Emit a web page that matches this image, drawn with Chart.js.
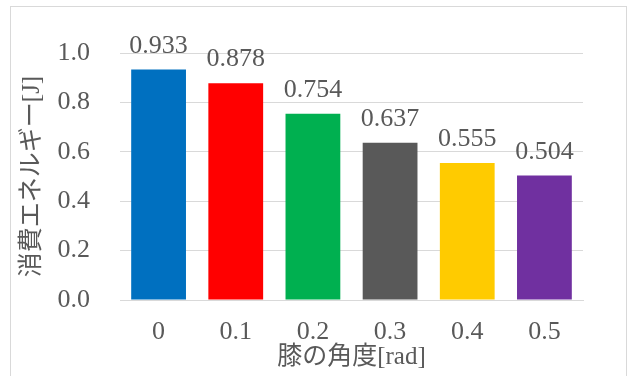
<!DOCTYPE html>
<html>
<head>
<meta charset="utf-8">
<script src="https://cdn.jsdelivr.net/npm/chart.js@4"></script>
<style>
  html, body { margin: 0; padding: 0; background: #fff; }
  #wrap { position: relative; width: 633px; height: 376px; overflow: hidden; }
  #frame { position: absolute; left: 10px; top: 6px; width: 615px; height: 400px; border: 1px solid #d9d9d9; }
  canvas { position: absolute; left: 0; top: 0; }
</style>
</head>
<body>
<div id="wrap">
  <div id="frame"></div>
  <canvas id="chart" width="633" height="376"></canvas>
</div>
<script>
// ---- データ ----
const angles = ['0', '0.1', '0.2', '0.3', '0.4', '0.5'];
const energy = [0.933, 0.878, 0.754, 0.637, 0.555, 0.504];
const barColors = ['#0070C0', '#FF0000', '#00B050', '#595959', '#FFCB00', '#7030A0'];
const yTicks = [0, 0.2, 0.4, 0.6, 0.8, 1.0];

const FONT = '"Liberation Serif", "Noto Sans CJK JP", serif';
const TEXT = '#595959';

// 棒の上に値を描くプラグイン
const valueLabels = {
  id: 'valueLabels',
  afterDatasetsDraw(chart) {
    const ctx = chart.ctx;
    const meta = chart.getDatasetMeta(0);
    ctx.save();
    ctx.font = '26px ' + FONT;
    ctx.fillStyle = TEXT;
    ctx.textAlign = 'center';
    ctx.textBaseline = 'alphabetic';
    meta.data.forEach((bar, i) => {
      ctx.fillText(energy[i].toFixed(3), bar.x, bar.y - 17);
    });
    ctx.restore();
  }
};

new Chart(document.getElementById('chart'), {
  type: 'bar',
  data: {
    labels: angles,
    datasets: [{
      data: energy,
      backgroundColor: barColors,
      borderWidth: 0,
      categoryPercentage: 1.0,
      barPercentage: 0.71
    }]
  },
  options: {
    responsive: false,
    animation: false,
    layout: { padding: { left: 0, top: 53, right: 50, bottom: 0 } },
    plugins: { legend: { display: false }, tooltip: { enabled: false } },
    scales: {
      x: {
        grid: { display: false, drawTicks: false },
        border: { display: true, color: '#d9d9d9', width: 1 },
        ticks: { color: TEXT, font: { family: FONT, size: 26 }, padding: 17 },
        title: { display: true, text: '膝の角度[rad]', color: TEXT, font: { family: FONT, size: 25 }, padding: { top: 0, bottom: 4 } },
        afterFit(scale) { scale.height = 76; }
      },
      y: {
        min: 0,
        max: 1.0,
        grid: { color: '#d9d9d9', lineWidth: 1, drawTicks: false },
        border: { display: false },
        afterBuildTicks(scale) { scale.ticks = yTicks.map(v => ({ value: v })); },
        ticks: { color: TEXT, font: { family: FONT, size: 26 }, padding: 30, callback: v => Number(v).toFixed(1) },
        title: { display: true, text: '消費エネルギー[J]', color: TEXT, font: { family: FONT, size: 25 }, padding: { top: 17, bottom: 0 } },
        afterFit(scale) { scale.width = 120; }
      }
    }
  },
  plugins: [valueLabels]
});
</script>
</body>
</html>
